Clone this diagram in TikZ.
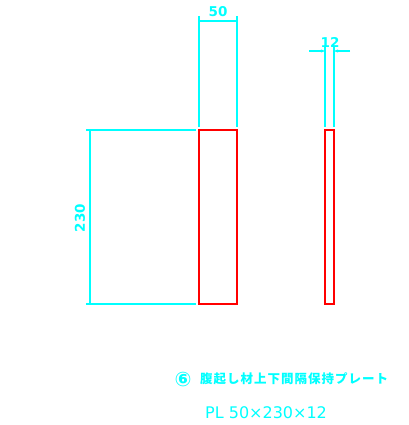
\documentclass[tikz,border=0pt]{standalone}
\usepackage{fontspec}
\setmainfont{DejaVu Sans}
\newfontfamily\jpfont[LetterSpace=8]{Noto Sans CJK JP}
\usetikzlibrary{arrows.meta}
\definecolor{dimcyan}{RGB}{0,255,255}
\definecolor{platered}{RGB}{255,0,0}
\newcommand\xA{199}
\newcommand\xB{237}
\newcommand\xC{325}
\newcommand\xD{334}
\newcommand\yT{130}
\newcommand\yB{304}
\tikzset{
	dimline/.style={draw=dimcyan,line width=1.4pt},
	plate/.style={draw=platered,line width=1.6pt},
	dimtext/.style={text=dimcyan,inner sep=0pt,font=\bfseries\fontsize{13.5}{13.5}\selectfont},
	jptext/.style={text=dimcyan,inner sep=0pt,anchor=west,font=\jpfont\bfseries\fontsize{12.5}{12.5}\selectfont}
}
\begin{document}
\begin{tikzpicture}[x=1pt,y=-1pt]
\useasboundingbox (0,0) rectangle (408,425);
% front plate and side plate
\draw [plate](\xA,\yT) rectangle (\xB,\yB);
\draw [plate](\xC,\yT) rectangle (\xD,\yB);
% width 50
\coordinate (wa) at (\xA,16);
\coordinate (wb) at (\xB,16);
\coordinate (wc) at (\xA,127);
\coordinate (wd) at (\xB,127);
\coordinate (we) at (\xA,21);
\coordinate (wf) at (\xB,21);
\draw [dimline](wa) -- (wc);
\draw [dimline](wb) -- (wd);
\draw [dimline](we) -- (wf);
\node [dimtext] (wlabel) at (218,12) {50};
% thickness 12
\coordinate (ta) at (\xC,46);
\coordinate (tb) at (\xD,46);
\coordinate (tc) at (\xC,127);
\coordinate (td) at (\xD,127);
\coordinate (te) at (309,51);
\coordinate (tf) at (\xC,51);
\coordinate (tg) at (350,51);
\coordinate (th) at (\xD,51);
\draw [dimline](ta) -- (tc);
\draw [dimline](tb) -- (td);
\draw [dimline,-{Stealth[length=4pt,width=3pt]}](te) -- (tf);
\draw [dimline,-{Stealth[length=4pt,width=3pt]}](tg) -- (th);
\node [dimtext] (tlabel) at (330,42) {12};
% height 230
\coordinate (ha) at (86,\yT);
\coordinate (hb) at (196,\yT);
\coordinate (hc) at (86,\yB);
\coordinate (hd) at (196,\yB);
\coordinate (he) at (90,\yT);
\coordinate (hf) at (90,\yB);
\draw [dimline](ha) -- (hb);
\draw [dimline](hc) -- (hd);
\draw [dimline](he) -- (hf);
\node [dimtext,rotate=90] (hlabel) at (80,218) {230};
% title
\node [dimtext,font=\bfseries\fontsize{20}{20}\selectfont] (mark) at (183,379) {⑥};
\node [jptext] (title) at (200,379) {腹起し材上下間隔保持プレート};
\node [dimtext,anchor=west,font=\fontsize{16}{16}\selectfont] (size) at (205,413) {PL 50×230×12};
\end{tikzpicture}
\end{document}
